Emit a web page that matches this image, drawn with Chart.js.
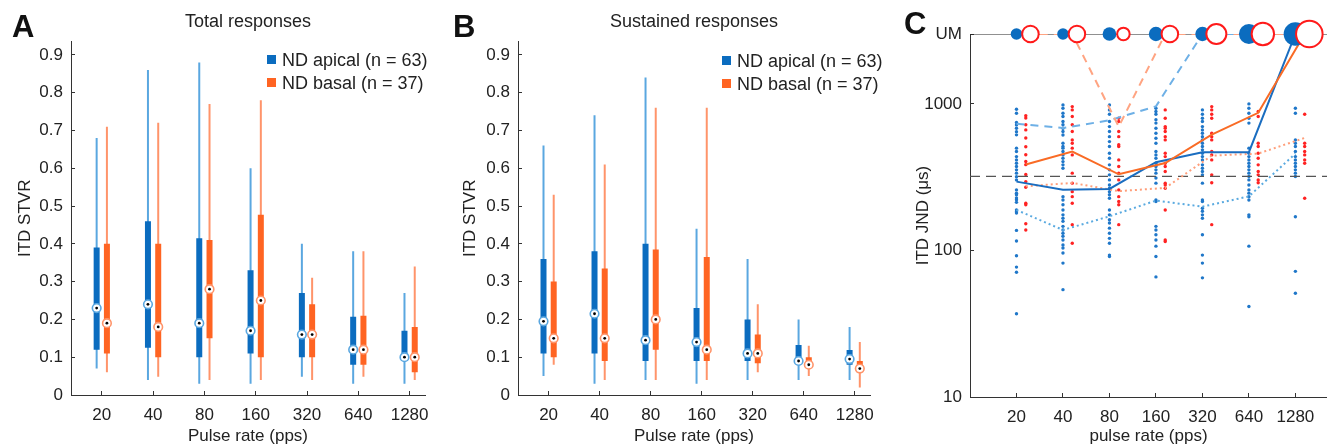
<!DOCTYPE html>
<html>
<head>
<meta charset="utf-8">
<script src="https://cdn.jsdelivr.net/npm/chart.js@4/dist/chart.umd.min.js"></script>
<style>
  body { margin: 0; width: 1327px; height: 447px; background: #fff; position: relative; overflow: hidden;
         font-family: "Liberation Sans", Arial, sans-serif; color: #222; }
  canvas { position: absolute; top: 0; }
  .letter { position: absolute; font-weight: bold; font-size: 31px; line-height: 1; color: #111; }
  .leg { position: absolute; font-size: 18px; line-height: 23px; white-space: nowrap; }
  .leg i { display: inline-block; width: 9px; height: 9px; margin-right: 6px; vertical-align: 2px; }
</style>
</head>
<body>
<canvas id="chartA" width="440" height="447" style="left:0"></canvas>
<canvas id="chartB" width="445" height="447" style="left:440px"></canvas>
<canvas id="chartC" width="427" height="447" style="left:900px"></canvas>

<div class="letter" style="left:12px;top:11px">A</div>
<div class="letter" style="left:453px;top:11px">B</div>
<div class="letter" style="left:904px;top:8px">C</div>

<div class="leg" style="left:267px;top:49px"><i style="background:#0b6cbf"></i>ND apical (n = 63)</div>
<div class="leg" style="left:267px;top:72px"><i style="background:#ff6422"></i>ND basal (n = 37)</div>
<div class="leg" style="left:722px;top:50px"><i style="background:#0b6cbf"></i>ND apical (n = 63)</div>
<div class="leg" style="left:722px;top:73px"><i style="background:#ff6422"></i>ND basal (n = 37)</div>

<script>
const rates = ['20', '40', '80', '160', '320', '640', '1280'];

// A - total responses (ITD STVR): whisker ends, quartiles, median
const totApMin = [0.07, 0.04, 0.03, 0.03, 0.048, 0.03, 0.03];
const totApQ1  = [0.12, 0.125, 0.10, 0.11, 0.10, 0.08, 0.10];
const totApMed = [0.23, 0.24, 0.19, 0.17, 0.16, 0.12, 0.10];
const totApQ3  = [0.39, 0.46, 0.415, 0.33, 0.27, 0.207, 0.17];
const totApMax = [0.68, 0.86, 0.88, 0.60, 0.40, 0.38, 0.27];
const totBaMin = [0.06, 0.048, 0.04, 0.04, 0.04, 0.048, 0.04];
const totBaQ1  = [0.11, 0.10, 0.15, 0.10, 0.10, 0.08, 0.06];
const totBaMed = [0.19, 0.18, 0.28, 0.25, 0.16, 0.12, 0.10];
const totBaQ3  = [0.40, 0.40, 0.41, 0.477, 0.24, 0.21, 0.18];
const totBaMax = [0.71, 0.72, 0.77, 0.78, 0.31, 0.38, 0.34];

// B - sustained responses
const susApMin = [0.05, 0.03, 0.04, 0.03, 0.04, 0.04, 0.04];
const susApQ1  = [0.11, 0.11, 0.09, 0.09, 0.09, 0.09, 0.08];
const susApMed = [0.195, 0.215, 0.145, 0.14, 0.11, 0.09, 0.095];
const susApQ3  = [0.36, 0.38, 0.40, 0.23, 0.20, 0.132, 0.119];
const susApMax = [0.66, 0.74, 0.84, 0.44, 0.36, 0.20, 0.18];
const susBaMin = [0.08, 0.04, 0.04, 0.04, 0.06, 0.05, 0.02];
const susBaQ1  = [0.10, 0.09, 0.12, 0.09, 0.084, 0.079, 0.06];
const susBaMed = [0.15, 0.15, 0.20, 0.12, 0.11, 0.08, 0.07];
const susBaQ3  = [0.30, 0.335, 0.385, 0.365, 0.16, 0.10, 0.09];
const susBaMax = [0.53, 0.61, 0.76, 0.76, 0.24, 0.13, 0.14];

// C - ITD JND (us); UM = unmeasurable, plotted on the top line
const UM = 3000;
const jndCriterion = 320;
const apicalJnd = [
  [920, 864, 746, 719, 683, 647, 615, 499, 473, 437, 415, 394, 374, 355, 337, 319, 303, 259, 246, 240, 228, 222, 213, 189, 184, 180, 137, 116, 92, 77, 71, 37], // 20
  [985, 934, 863, 820, 758, 720, 683, 648, 614, 539, 512, 499, 473, 449, 426, 404, 384, 364, 233, 221, 205, 189, 175, 166, 158, 146, 138, 131, 125, 118, 109, 104, 96, 82, 54], // 40
  [985, 910, 850, 758, 700, 648, 598, 553, 512, 461, 426, 384, 355, 328, 303, 280, 266, 252, 240, 227, 189, 175, 162, 154, 142, 131, 121, 112, 93, 91], // 80
  [934, 887, 850, 779, 740, 683, 631, 583, 539, 473, 449, 426, 394, 374, 355, 337, 312, 288, 221, 216, 146, 138, 128, 118, 107, 91, 66], // 160
  [910, 850, 798, 758, 700, 665, 631, 598, 568, 539, 512, 486, 461, 437, 415, 384, 364, 346, 328, 288, 221, 216, 194, 185, 175, 166, 128, 93, 82, 65], // 320
  [1000, 934, 863, 798, 740, 499, 461, 437, 415, 394, 374, 355, 337, 320, 303, 280, 259, 246, 233, 221, 175, 170, 107, 41.5], // 640
  [934, 863, 568, 539, 512, 473, 437, 415, 394, 374, 355, 337, 320, 170, 72, 51] // 1280
];
const basalJnd = [
  [830, 800, 720, 665, 585, 510, 450, 405, 385, 330, 295, 270, 210, 205, 152, 138],
  [959, 910, 820, 720, 648, 568, 539, 499, 449, 337, 288, 252, 233, 210, 150, 112],
  [798, 758, 648, 598, 526, 512, 415, 374, 337, 303, 259, 233, 216, 205, 150],
  [910, 798, 700, 683, 648, 598, 568, 461, 437, 394, 374, 346, 288, 280, 266, 189, 118, 115],
  [959, 910, 850, 798, 631, 598, 568, 473, 449, 415, 328, 290, 150],
  [887, 820, 539, 512, 461, 426, 384, 346, 328, 303, 290],
  [850, 539, 512, 473, 449, 415, 394, 227]
];
const apicalJndMed = [295, 260, 263, 400, 468, 468, UM];
const basalJndMed  = [386, 473, 331, 395, 617, 870, UM];
const apicalJndQ3  = [731, 685, 773, 962, UM, UM, UM];
const basalJndQ3   = [UM, UM, 700, UM, UM, UM, UM];
const apicalJndQ1  = [189, 138, 171, 219, 199, 234, 458];
const basalJndQ1   = [274, 289, 254, 267, 444, 458, 586];
// percent of units unmeasurable (circle size on the UM line)
const apicalUmPct = [17, 17, 24, 26, 26, 51, 70];
const basalUmPct  = [35, 35, 20, 35, 51, 64, 90];

const BLUE = '#0b6cbf', BLUE_LT = '#5aa7e0', ORANGE = '#ff6422', ORANGE_LT = '#ff946a';
const AXIS = '#333';

Chart.defaults.font.family = '"Liberation Sans", Arial, sans-serif';
Chart.defaults.color = '#222';
Chart.defaults.animation = false;

function points(vals, off) {
  return vals.map((v, i) => ({x: i + 1 + off, y: v}));
}

// vertical segments, one per rate, separated by gaps
function segments(lo, hi, off) {
  const pts = [];
  lo.forEach((v, i) => {
    pts.push({x: i + 1 + off, y: v}, {x: i + 1 + off, y: hi[i]}, {x: i + 1 + off, y: null});
  });
  return pts;
}

function boxGroup(min, q1, med, q3, max, off, dark, light) {
  return [
    {data: points(med, off), pointRadius: 1.4, pointBackgroundColor: '#000', pointBorderWidth: 0},
    {data: points(med, off), pointRadius: 4.3, pointBackgroundColor: '#fff', pointBorderColor: light, pointBorderWidth: 1.6},
    {data: segments(q1, q3, off), showLine: true, borderColor: dark, borderWidth: 6, borderCapStyle: 'butt', pointRadius: 0},
    {data: segments(min, max, off), showLine: true, borderColor: light, borderWidth: 2, borderCapStyle: 'butt', pointRadius: 0}
  ];
}

// inward tick marks, no grid lines
const inTicks = {display: true, drawOnChartArea: false, drawTicks: true, tickLength: -4, color: AXIS};

function rateAxis(min, max, title, height) {
  return {
    type: 'linear', min: min, max: max,
    grid: inTicks,
    border: {color: AXIS},
    afterBuildTicks: s => { s.ticks = rates.map((r, i) => ({value: i + 1})); },
    ticks: {autoSkip: false, maxRotation: 0, padding: 14, font: {size: 17}, callback: (v, i) => rates[i]},
    title: {display: true, text: title, font: {size: 17}, padding: {top: 0, bottom: 0}},
    afterFit: s => { s.height = height; s.paddingLeft = 0; s.paddingRight = 0; }
  };
}

function boxChart(id, title, groups, yWidth, titlePad) {
  return new Chart(document.getElementById(id), {
    type: 'scatter',
    data: {datasets: groups},
    options: {
      responsive: false,
      layout: {autoPadding: false, padding: {left: 0, right: 15, top: 0, bottom: 0}},
      scales: {
        x: rateAxis(0.4, 7.3, 'Pulse rate (pps)', 52),
        y: {
          min: 0, max: 0.935,
          grid: inTicks,
          border: {color: AXIS},
          ticks: {stepSize: 0.1, includeBounds: false, padding: 12, font: {size: 17},
                  callback: v => Math.abs(v) < 1e-9 ? '0' : v.toFixed(1)},
          title: {display: true, text: 'ITD STVR', font: {size: 17}, padding: {top: titlePad, bottom: 0}},
          afterFit: s => { s.width = yWidth; }
        }
      },
      plugins: {
        legend: {display: false},
        tooltip: {enabled: false},
        title: {display: true, text: title, fullSize: false, font: {size: 18, weight: 'normal'},
                padding: {top: 11, bottom: 9}}
      }
    }
  });
}

boxChart('chartA', 'Total responses', [
  ...boxGroup(totApMin, totApQ1, totApMed, totApQ3, totApMax, -0.1, BLUE, BLUE_LT),
  ...boxGroup(totBaMin, totBaQ1, totBaMed, totBaQ3, totBaMax, 0.1, ORANGE, ORANGE_LT)
], 71, 15);

boxChart('chartB', 'Sustained responses', [
  ...boxGroup(susApMin, susApQ1, susApMed, susApQ3, susApMax, -0.1, BLUE, BLUE_LT),
  ...boxGroup(susBaMin, susBaQ1, susBaMed, susBaQ3, susBaMax, 0.1, ORANGE, ORANGE_LT)
], 78, 20);

// panel C
const cMax = 7.68;
const umSlots = rates.map(() => UM);
const line = (data, color, width, dash) => ({
  data: data, showLine: true, borderColor: color, borderWidth: width, borderDash: dash || [], pointRadius: 0
});

new Chart(document.getElementById('chartC'), {
  type: 'scatter',
  data: {
    datasets: [
      {data: points(umSlots, 0.3), pointRadius: basalUmPct.map(p => 1.4 * Math.sqrt(p)),
       pointBackgroundColor: '#fff', pointBorderColor: '#ff1a1a', pointBorderWidth: 2, clip: false},
      {data: points(umSlots, 0), pointRadius: apicalUmPct.map(p => 1.4 * Math.sqrt(p)),
       pointBackgroundColor: BLUE, pointBorderWidth: 0, clip: false},
      line(points(basalJndMed, 0.2), '#f96b25', 2),
      line(points(apicalJndMed, 0), '#1a6dc0', 2),
      line(points(basalJndQ3, 0.2), '#ffa482', 2, [8, 6]),
      line(points(apicalJndQ3, 0), '#6eb0e6', 2, [8, 6]),
      line(points(basalJndQ1, 0.2), '#ff9e7a', 2, [2, 3]),
      line(points(apicalJndQ1, 0), '#5aaae0', 2, [2, 3]),
      line([{x: 0, y: UM}, {x: cMax, y: UM}], '#222', 1),
      line([{x: 0, y: jndCriterion}, {x: cMax, y: jndCriterion}], '#555', 1.3, [10, 6]),
      {data: basalJnd.flatMap((vals, i) => vals.map(v => ({x: i + 1.2, y: v}))),
       pointRadius: 1.7, pointBackgroundColor: '#ff2222', pointBorderWidth: 0},
      {data: apicalJnd.flatMap((vals, i) => vals.map(v => ({x: i + 1, y: v}))),
       pointRadius: 1.7, pointBackgroundColor: '#1f77c9', pointBorderWidth: 0}
    ]
  },
  options: {
    responsive: false,
    // the big UM circles would otherwise add auto padding on the right
    layout: {autoPadding: false, padding: {left: 0, right: 0, top: 34, bottom: 0}},
    scales: {
      x: rateAxis(0, cMax, 'pulse rate (pps)', 50),
      y: {
        type: 'logarithmic', min: 10, max: UM,
        grid: inTicks,
        border: {color: AXIS},
        afterBuildTicks: s => { s.ticks = [10, 100, 1000, UM].map(v => ({value: v})); },
        ticks: {padding: 12, font: {size: 17}, callback: v => v === UM ? 'UM' : String(v)},
        title: {display: true, text: 'ITD JND (μs)', font: {size: 17}, padding: {top: 13, bottom: 0}},
        afterFit: s => { s.width = 70; }
      }
    },
    plugins: {legend: {display: false}, tooltip: {enabled: false}}
  }
});
</script>
</body>
</html>
